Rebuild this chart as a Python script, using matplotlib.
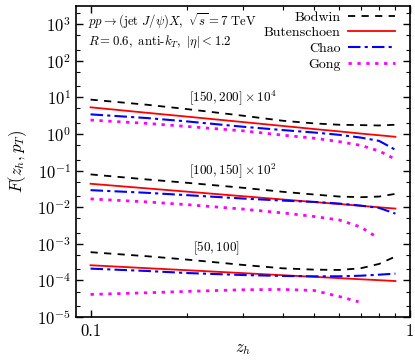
import numpy as np
import matplotlib
matplotlib.use('Agg')
import matplotlib.pyplot as plt
from matplotlib.ticker import FixedLocator, NullFormatter

plt.rcParams['font.family'] = 'serif'
plt.rcParams['font.serif'] = ['cmr10', 'DejaVu Serif']
plt.rcParams['mathtext.fontset'] = 'cm'
plt.rcParams['axes.unicode_minus'] = False
plt.rcParams['axes.formatter.use_mathtext'] = True

# z_h grid
z = [0.1, 0.15, 0.2, 0.3, 0.4, 0.5, 0.6, 0.7, 0.8, 0.9]

# [150, 200] x 10^4
bod_1 = [8.7, 6.3, 4.8, 3.16, 2.3, 1.95, 1.79, 1.75, 1.71, 1.79]
but_1 = [5.36, 3.80, 2.99, 2.12, 1.66, 1.37, 1.18, 1.03, 0.925, 0.84]
chao_1 = [3.44, 2.73, 2.21, 1.58, 1.28, 1.10, 0.95, 0.80, 0.65, 0.37]
gong_1 = [2.40, 1.95, 1.61, 1.22, 0.93, 0.77, 0.62, 0.49, 0.345, 0.204]

# [100, 150] x 10^2
bod_2 = [0.0789, 0.0575, 0.0466, 0.034, 0.0264, 0.0223, 0.0196, 0.0188, 0.0196, 0.0232]
but_2 = [0.0438, 0.0328, 0.0267, 0.0200, 0.0163, 0.0139, 0.01225, 0.01097, 0.00997, 0.0092]
chao_2 = [0.0293, 0.0248, 0.0214, 0.0173, 0.0152, 0.0140, 0.0126, 0.0111, 0.0096, 0.0067]
z_gong_2 = [0.1, 0.15, 0.2, 0.3, 0.4, 0.5, 0.6, 0.7, 0.79]
gong_2 = [0.0169, 0.0140, 0.0118, 0.0089, 0.0070, 0.0056, 0.0045, 0.0029, 0.0015]

# [50, 100]
bod_3 = [5.93e-4, 4.60e-4, 3.73e-4, 2.66e-4, 2.15e-4, 1.98e-4, 1.94e-4, 2.15e-4, 2.83e-4, 4.51e-4]
but_3 = [2.61e-4, 2.17e-4, 1.91e-4, 1.59e-4, 1.39e-4, 1.26e-4, 1.16e-4, 1.08e-4, 1.02e-4, 9.66e-5]
chao_3 = [2.11e-4, 1.82e-4, 1.60e-4, 1.41e-4, 1.33e-4, 1.30e-4, 1.30e-4, 1.35e-4, 1.44e-4, 1.54e-4]
z_gong_3 = [0.1, 0.15, 0.2, 0.3, 0.4, 0.5, 0.6, 0.69]
gong_3 = [4.16e-5, 4.62e-5, 5.03e-5, 5.58e-5, 5.70e-5, 5.35e-5, 3.66e-5, 2.62e-5]

labels = ['Bodwin', 'Butenschoen', 'Chao', 'Gong']

fig = plt.figure(figsize=(4.15, 3.62), dpi=100)
ax = fig.add_axes([0.183, 0.124, 0.805, 0.859])

sty_bod = dict(color='black', ls=(0, (4, 3.5)), lw=1.3)
sty_but = dict(color='red', ls='-', lw=1.3)
sty_chao = dict(color='blue', ls=(0, (6, 2, 1.5, 2)), lw=1.5)
sty_gong = dict(color='magenta', ls=(0, (1.2, 2)), lw=2.0)

for i, (b, u, c, g, zg) in enumerate([(bod_1, but_1, chao_1, gong_1, z),
                                      (bod_2, but_2, chao_2, gong_2, z_gong_2),
                                      (bod_3, but_3, chao_3, gong_3, z_gong_3)]):
    ax.plot(z, b, label=labels[0] if i == 0 else None, **sty_bod)
    ax.plot(z, u, label=labels[1] if i == 0 else None, **sty_but)
    ax.plot(z, c, label=labels[2] if i == 0 else None, **sty_chao)
    ax.plot(zg, g, label=labels[3] if i == 0 else None, **sty_gong)

ax.set_xscale('log')
ax.set_yscale('log')
ax.set_xlim(0.09, 1.0)
ax.set_ylim(1e-5, 3.1e3)

ax.xaxis.set_major_locator(FixedLocator([0.1, 1]))
ax.set_xticklabels(['0.1', '1'])
ax.xaxis.set_minor_locator(FixedLocator([0.2, 0.3, 0.4, 0.5, 0.6, 0.7, 0.8, 0.9]))
ax.xaxis.set_minor_formatter(NullFormatter())

decades = [-5, -4, -3, -2, -1, 0, 1, 2, 3]
ax.yaxis.set_major_locator(FixedLocator([10.0**d for d in decades]))
ax.yaxis.set_minor_locator(FixedLocator([m * 10.0**d for d in decades for m in (2, 5)
                                         if m * 10.0**d < 3.1e3]))
ax.yaxis.set_minor_formatter(NullFormatter())

ax.tick_params(which='both', direction='in', top=True, right=True, labelsize=12)
ax.tick_params(which='major', length=5, width=1)
ax.tick_params(which='minor', length=3, width=0.8)
ax.tick_params(axis='x', pad=5)
for s in ax.spines.values():
    s.set_linewidth(1.2)

ax.set_xlabel(r'$z_h$', fontsize=12, labelpad=2)
ax.set_ylabel(r'$F(z_h,p_T)$', fontsize=12, labelpad=6)

ax.text(0.035, 0.950, r'$pp\to(\mathrm{jet}\ J/\psi)X,\ \sqrt{s}=7\ \mathrm{TeV}$',
        transform=ax.transAxes, fontsize=9.2, va='center', ha='left')
ax.text(0.035, 0.886, r'$R=0.6,\ \mathrm{anti}\text{-}k_T,\ |\eta|<1.2$',
        transform=ax.transAxes, fontsize=9.2, va='center', ha='left')

ax.text(0.47, 10**1.0, r'$[150,200]\times10^4$', transform=ax.get_yaxis_transform(),
        fontsize=9.5, ha='center', va='center')
ax.text(0.47, 10**-1.0, r'$[100,150]\times10^2$', transform=ax.get_yaxis_transform(),
        fontsize=9.5, ha='center', va='center')
ax.text(0.42, 10**-3.12, r'$[50,100]$', transform=ax.get_yaxis_transform(),
        fontsize=9.5, ha='center', va='center')

ax.legend(loc='upper right', bbox_to_anchor=(0.955, 0.985), markerfirst=False,
          frameon=False, fontsize=10, handlelength=3.4, labelspacing=0.22,
          borderaxespad=0, handletextpad=0.5, borderpad=0)

fig.savefig('out.png', dpi=100)
